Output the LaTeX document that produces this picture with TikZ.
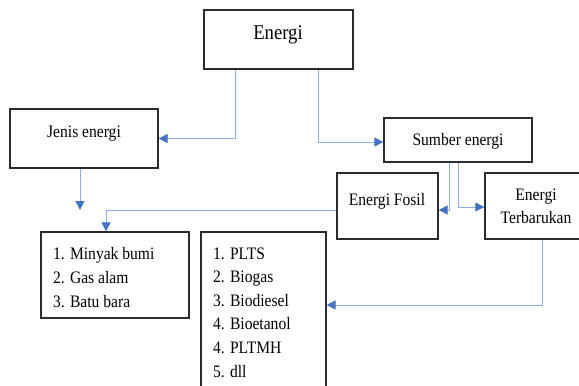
\documentclass[tikz,border=0pt]{standalone}
\usepackage{fontspec}
\setmainfont{Liberation Serif}[FakeStretch=0.89]
\usetikzlibrary{arrows.meta}
\definecolor{lineblue}{HTML}{8DB0E4}
\definecolor{tipblue}{HTML}{4472C4}
\definecolor{boxline}{HTML}{2B2B2B}
\begin{document}
\begin{tikzpicture}[x=1pt,y=-1pt,
  box/.style={draw=boxline, line width=1.3pt, fill=white, inner sep=0pt},
  conn/.style={draw=lineblue, line width=1pt, -{Triangle[length=9pt,width=9pt,color=tipblue]}},
  txt/.style={inner sep=0pt, anchor=base, font=\fontsize{17.5}{21}\selectfont},
  itemtxt/.style={inner sep=0pt, anchor=base west, font=\fontsize{17.5}{21}\selectfont}]
\useasboundingbox (0,0) rectangle (579,386);
\clip (0,0) rectangle (579,386);
\fill[white] (0,0) rectangle (579,386);
% boxes
\node[box, minimum width=149pt, minimum height=59pt] (energi) at (278.5,39.5) {};
\node[box, minimum width=148pt, minimum height=59pt] (jenis) at (84,138.5) {};
\node[box, minimum width=148pt, minimum height=44pt] (sumber) at (458,140) {};
\node[box, minimum width=101pt, minimum height=66pt] (fosil) at (387.5,206) {};
\node[box, minimum width=102pt, minimum height=66pt] (terbarukan) at (536,206) {};
\node[box, minimum width=148pt, minimum height=86pt] (minyak) at (115,275) {};
\node[box, minimum width=125pt, minimum height=168pt] (plts) at (263.5,316) {};
% texts
\node[txt, font=\fontsize{21}{25}\selectfont] (tEnergi) at (278,39) {Energi};
\node[txt] (tJenis) at (84,137) {Jenis energi};
\node[txt] (tSumber) at (458,145.5) {Sumber energi};
\node[txt] (tFosil) at (387,205) {Energi Fosil};
\node[txt] (tTerb1) at (536,200) {Energi};
\node[txt] (tTerb2) at (536,223.3) {Terbarukan};
\node[itemtxt] (m1) at (53,259) {1. Minyak bumi};
\node[itemtxt] (m2) at (53,283) {2. Gas alam};
\node[itemtxt] (m3) at (53,307) {3. Batu bara};
\node[itemtxt] (p1) at (213,259) {1. PLTS};
\node[itemtxt] (p2) at (213,282.6) {2. Biogas};
\node[itemtxt] (p3) at (213,306.2) {3. Biodiesel};
\node[itemtxt] (p4) at (213,329.8) {4. Bioetanol};
\node[itemtxt] (p5) at (213,353.4) {4. PLTMH};
\node[itemtxt] (p6) at (213,377) {5. dll};
% connectors
\coordinate (jenisend) at (80,210);
\draw[conn] ([xshift=-43.5pt]energi.south) |- (jenis.east);
\draw[conn] ([xshift=39.5pt]energi.south) |- ([yshift=-2pt]sumber.west);
\draw[conn] ([xshift=-9pt]sumber.south) |- ([yshift=-4pt]fosil.east);
\draw[conn] (sumber.south) |- ([yshift=-1pt]terbarukan.west);
\draw[conn] ([yshift=-4pt]fosil.west) -| ([xshift=-9pt]minyak.north);
\draw[conn] (jenis.south -| jenisend) -- (jenisend);
\draw[conn] ([xshift=6pt]terbarukan.south) |- ([yshift=11pt]plts.east);
\end{tikzpicture}
\end{document}
